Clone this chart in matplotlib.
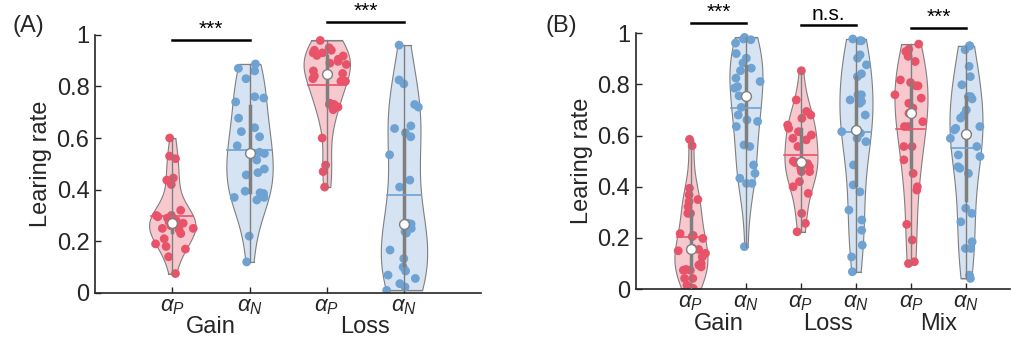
import numpy as np
import matplotlib.pyplot as plt

plt.rcParams['font.family'] = ['Liberation Sans', 'DejaVu Sans']
plt.rcParams['mathtext.fontset'] = 'custom'
plt.rcParams['mathtext.it'] = 'Liberation Sans:italic'
plt.rcParams['mathtext.rm'] = 'Liberation Sans'

# ---- data ----
# Panel A
a_gain_p = [0.60, 0.53, 0.52, 0.445, 0.437, 0.42, 0.30, 0.295, 0.32, 0.30, 0.29, 0.27, 0.275,
            0.28, 0.27, 0.25, 0.25, 0.245, 0.23, 0.21, 0.19, 0.17, 0.18, 0.14, 0.075, 0.27, 0.26]
a_gain_n = [0.887, 0.87, 0.86, 0.83, 0.74, 0.76, 0.755, 0.677, 0.64, 0.625, 0.605, 0.545, 0.57,
            0.54, 0.515, 0.466, 0.48, 0.457, 0.388, 0.37, 0.37, 0.385, 0.394, 0.22, 0.12, 0.36]
a_loss_p = [0.978, 0.918, 0.92, 0.95, 0.93, 0.94, 0.94, 0.93, 0.897, 0.905, 0.89, 0.885, 0.86,
            0.82, 0.83, 0.82, 0.735, 0.73, 0.72, 0.71, 0.73, 0.60, 0.495, 0.47, 0.41, 0.84, 0.85]
a_loss_n = [0.96, 0.825, 0.81, 0.73, 0.72, 0.647, 0.637, 0.62, 0.605, 0.535, 0.437, 0.41, 0.27,
            0.267, 0.25, 0.237, 0.232, 0.166, 0.133, 0.069, 0.10, 0.085, 0.056, 0.036, 0.01, 0.023]
# Panel B
b_gain_p = [0.585, 0.56, 0.394, 0.368, 0.35, 0.342, 0.322, 0.296, 0.296, 0.217, 0.205, 0.198,
            0.159, 0.155, 0.14, 0.126, 0.094, 0.10, 0.087, 0.074, 0.074, 0.077, 0.042, 0.042,
            0.016, 0.003, 0.21, 0.15]
b_gain_n = [0.983, 0.977, 0.974, 0.961, 0.92, 0.902, 0.883, 0.863, 0.853, 0.824, 0.811, 0.791,
            0.785, 0.755, 0.71, 0.68, 0.661, 0.655, 0.635, 0.563, 0.557, 0.485, 0.452, 0.433,
            0.413, 0.413, 0.166]
b_loss_p = [0.853, 0.739, 0.694, 0.68, 0.667, 0.641, 0.628, 0.615, 0.602, 0.589, 0.583, 0.557,
            0.50, 0.49, 0.495, 0.495, 0.478, 0.472, 0.459, 0.459, 0.40, 0.42, 0.374, 0.296,
            0.257, 0.224]
b_loss_n = [0.977, 0.97, 0.97, 0.902, 0.915, 0.876, 0.841, 0.83, 0.759, 0.759, 0.739, 0.733,
            0.726, 0.68, 0.62, 0.615, 0.589, 0.576, 0.609, 0.609, 0.485, 0.407, 0.38, 0.309,
            0.27, 0.23, 0.172, 0.126, 0.068]
b_mix_p = [0.957, 0.937, 0.928, 0.909, 0.889, 0.817, 0.807, 0.794, 0.794, 0.759, 0.746, 0.726,
           0.687, 0.707, 0.635, 0.654, 0.557, 0.557, 0.505, 0.452, 0.40, 0.387, 0.253, 0.192,
           0.107, 0.10, 0.635]
b_mix_n = [0.95, 0.95, 0.935, 0.87, 0.83, 0.798, 0.752, 0.752, 0.743, 0.70, 0.668, 0.68, 0.635,
           0.628, 0.622, 0.589, 0.557, 0.518, 0.524, 0.472, 0.478, 0.452, 0.316, 0.296, 0.263,
           0.185, 0.159, 0.159, 0.055, 0.042]

tick_labels = [r'$\alpha_P$', r'$\alpha_N$']
groups_a = ['Gain', 'Loss']
groups_b = ['Gain', 'Loss', 'Mix']
sig_a = ['***', '***']
sig_b = ['***', 'n.s.', '***']

RED = '#e9536a'
RED_FACE = '#f7c9cf'
BLUE = '#6ea2d3'
BLUE_FACE = '#d5e3f2'
GRAY = '#7f7f7f'
INK = '#262626'

rng = np.random.default_rng(3)


def kde(data, grid):
    data = np.asarray(data)
    bw = 1.06 * data.std() * len(data) ** -0.2
    z = (grid[:, None] - data[None, :]) / bw
    return np.exp(-0.5 * z ** 2).sum(axis=1)


def violin(ax, pos, data, col, face, width=0.3):
    data = np.asarray(data)
    grid = np.linspace(data.min(), data.max(), 200)
    dens = kde(data, grid)
    dens = dens / dens.max() * width
    ax.fill_betweenx(grid, pos - dens, pos + dens, facecolor=face, edgecolor=GRAY,
                     linewidth=0.8, zorder=1)
    ax.plot([pos - dens[0], pos + dens[0]], [grid[0]] * 2, color=GRAY, lw=0.8, zorder=1)
    ax.plot([pos - dens[-1], pos + dens[-1]], [grid[-1]] * 2, color=GRAY, lw=0.8, zorder=1)
    js = np.interp(data, grid, dens)
    jit = 2 * (rng.random(len(data)) - 0.5)
    ax.scatter(pos + jit * js, data, s=40, color=col, edgecolors='none', zorder=2)
    q1, med, q3 = np.percentile(data, [25, 50, 75])
    ax.plot([pos, pos], [data.min(), data.max()], color=GRAY, lw=1, zorder=3)
    ax.plot([pos, pos], [q1, q3], color=GRAY, lw=2.5, zorder=3)
    m = data.mean()
    mw = np.interp(m, grid, dens)
    ax.plot([pos - mw, pos + mw], [m, m], color=col, lw=1.2, zorder=3)
    ax.scatter([pos], [med], s=50, color='white', edgecolors=GRAY, linewidths=1, zorder=4)


def style(ax, ngroups, groups, gy):
    ax.set_ylim(0, 1)
    ax.set_yticks([0, 0.2, 0.4, 0.6, 0.8, 1])
    ax.set_yticklabels(['0', '0.2', '0.4', '0.6', '0.8', '1'])
    ax.set_xticks(range(1, 2 * ngroups + 1))
    ax.set_xticklabels(tick_labels * ngroups)
    ax.tick_params(direction='in', length=4, width=1, labelsize=17, color=INK,
                   labelcolor=INK, pad=4)
    ax.tick_params(axis='x', pad=2, labelsize=16)
    for s in ['top', 'right']:
        ax.spines[s].set_visible(False)
    for s in ['left', 'bottom']:
        ax.spines[s].set_linewidth(1.2)
        ax.spines[s].set_color(INK)
    ax.set_ylabel('Learing rate', fontsize=17, color=INK, labelpad=3)
    for i, g in enumerate(groups):
        ax.text(2 * i + 1.5, gy, g, ha='center', va='baseline', fontsize=17,
                color=INK, transform=ax.get_xaxis_transform())


fig = plt.figure(figsize=(10.11, 3.41), dpi=100)
axA = fig.add_axes([0.094, 0.141, 0.382, 0.757])
axB = fig.add_axes([0.629, 0.152, 0.370, 0.751])

data_a = [a_gain_p, a_gain_n, a_loss_p, a_loss_n]
for i, d in enumerate(data_a):
    red = i % 2 == 0
    violin(axA, i + 1, d, RED if red else BLUE, RED_FACE if red else BLUE_FACE)
axA.set_xlim(0, 5)
style(axA, 2, groups_a, -0.155)

data_b = [b_gain_p, b_gain_n, b_loss_p, b_loss_n, b_mix_p, b_mix_n]
for i, d in enumerate(data_b):
    red = i % 2 == 0
    violin(axB, i + 1, d, RED if red else BLUE, RED_FACE if red else BLUE_FACE)
axB.set_xlim(0, 6.8)
style(axB, 3, groups_b, -0.16)

# significance bars
bar_a = [0.978, 1.048]
for i, (lab, y) in enumerate(zip(sig_a, bar_a)):
    axA.plot([2 * i + 1, 2 * i + 2], [y, y], color='black', lw=1.8, clip_on=False)
    axA.text(2 * i + 1.5, y + 0.005, lab, ha='center', va='bottom', fontsize=15, clip_on=False)
bar_b = [1.04, 1.03, 1.02]
for i, (lab, y) in enumerate(zip(sig_b, bar_b)):
    axB.plot([2 * i + 1, 2 * i + 2], [y, y], color='black', lw=1.8, clip_on=False)
    axB.text(2 * i + 1.5, y + 0.005, lab, ha='center', va='bottom', fontsize=15, clip_on=False)

fig.text(0.012, 0.925, '(A)', fontsize=17, color=INK, va='center')
fig.text(0.54, 0.925, '(B)', fontsize=17, color=INK, va='center')

fig.savefig('out.png', dpi=100)
